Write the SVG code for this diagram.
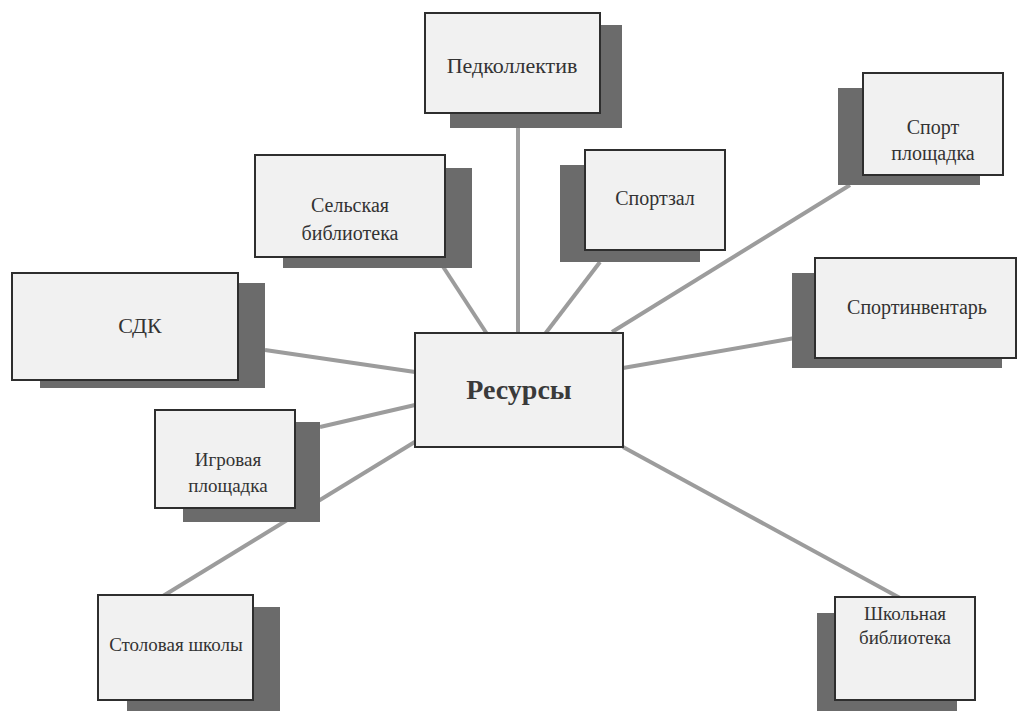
<svg xmlns="http://www.w3.org/2000/svg" width="1018" height="711" viewBox="0 0 1018 711">
<style>
.sh{fill:#6b6b6b}
.bx{fill:#f1f1f1;stroke:#2e2e2e;stroke-width:2}
.t{font-family:"Liberation Serif","Times New Roman","DejaVu Serif",serif;font-size:20px;fill:#333;text-anchor:middle}
.tb{font-family:"Liberation Serif","Times New Roman","DejaVu Serif",serif;font-size:28px;font-weight:bold;fill:#3a3a3a;text-anchor:middle}
.c{stroke:#9c9c9c;stroke-width:4;fill:none}
</style>
<rect width="1018" height="711" fill="#ffffff"/>
<g id="connectors">
<line class="c" x1="518" y1="128" x2="518" y2="334"/>
<line class="c" x1="440" y1="262" x2="487" y2="334"/>
<line class="c" x1="600" y1="262" x2="545" y2="334"/>
<line class="c" x1="850" y1="185" x2="612" y2="332"/>
<line class="c" x1="795" y1="338" x2="623" y2="368"/>
<line class="c" x1="265" y1="350" x2="415" y2="372"/>
<line class="c" x1="320" y1="427" x2="415" y2="405"/>
<line class="c" x1="163" y1="596" x2="418" y2="440"/>
<line class="c" x1="623" y1="447" x2="900" y2="598"/>
</g>
<g id="pedkollektiv">
<rect class="sh" x="450" y="25" width="172" height="103"/>
<rect class="bx" x="425" y="13" width="175" height="100"/>
<text class="t" x="512" y="73" style="font-size:22px">Педколлектив</text>
</g>
<g id="selskaya">
<rect class="sh" x="283" y="168" width="189" height="100"/>
<rect class="bx" x="255" y="155" width="190" height="102"/>
<text class="t" x="350" y="212">Сельская</text>
<text class="t" x="350" y="240">библиотека</text>
</g>
<g id="sportzal">
<rect class="sh" x="560" y="165" width="140" height="97"/>
<rect class="bx" x="585" y="150" width="140" height="100"/>
<text class="t" x="655" y="205">Спортзал</text>
</g>
<g id="sportploshchadka">
<rect class="sh" x="838" y="88" width="142" height="97"/>
<rect class="bx" x="863" y="73" width="140" height="102"/>
<text class="t" x="933" y="134">Спорт</text>
<text class="t" x="933" y="160">площадка</text>
</g>
<g id="sdk">
<rect class="sh" x="40" y="283" width="225" height="105"/>
<rect class="bx" x="12" y="273" width="226" height="107"/>
<text class="t" x="140" y="333" style="font-size:22px">СДК</text>
</g>
<g id="sportinventar">
<rect class="sh" x="792" y="273" width="210" height="95"/>
<rect class="bx" x="815" y="258" width="201" height="100"/>
<text class="t" x="917" y="314">Спортинвентарь</text>
</g>
<g id="resursy">
<rect class="bx" x="415" y="333" width="208" height="114"/>
<text class="tb" x="519" y="399">Ресурсы</text>
</g>
<g id="igrovaya">
<rect class="sh" x="183" y="422" width="137" height="100"/>
<rect class="bx" x="155" y="410" width="140" height="98"/>
<text class="t" x="228" y="466" style="font-size:19px">Игровая</text>
<text class="t" x="228" y="492" style="font-size:19px">площадка</text>
</g>
<g id="stolovaya">
<rect class="sh" x="127" y="607" width="153" height="104"/>
<rect class="bx" x="98" y="595" width="155" height="105"/>
<text class="t" x="176" y="651" style="font-size:19px">Столовая школы</text>
</g>
<g id="shkolnaya">
<rect class="sh" x="817" y="613" width="140" height="98"/>
<rect class="bx" x="835" y="597" width="140" height="103"/>
<text class="t" x="905" y="620" style="font-size:19px">Школьная</text>
<text class="t" x="905" y="644" style="font-size:19px">библиотека</text>
</g>
</svg>
